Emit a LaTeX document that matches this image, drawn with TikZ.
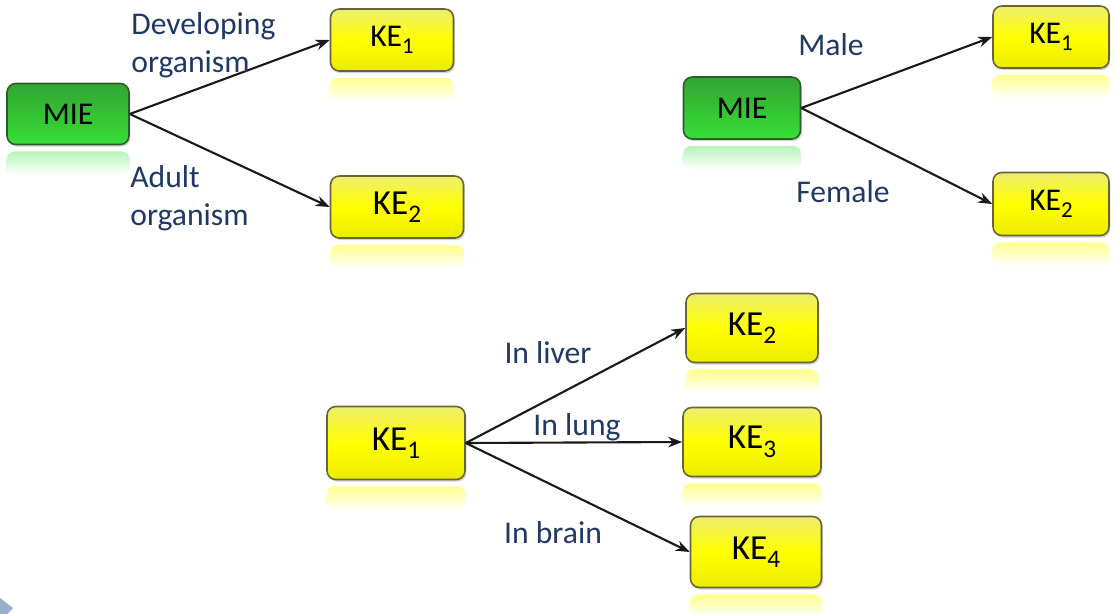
\documentclass[tikz,border=0pt]{standalone}
\usepackage{fontspec}
\setmainfont{Carlito}
\usetikzlibrary{arrows.meta,shadows,calc}

\definecolor{lblblue}{RGB}{31,56,100}
\definecolor{ketop}{RGB}{238,238,110}
\definecolor{kemid}{RGB}{255,255,0}
\definecolor{kebot}{RGB}{236,236,0}
\definecolor{keline}{RGB}{105,100,55}
\definecolor{mietop}{RGB}{50,165,50}
\definecolor{miebot}{RGB}{55,222,55}
\definecolor{mieline}{RGB}{40,95,40}
\definecolor{slidetri}{RGB}{150,175,205}

% lowered index after KE
\newcommand{\ksub}[1]{\raisebox{-0.24em}{\scalebox{0.72}{#1}}}

\tikzset{
  box/.style={draw, line width=0.9pt, rounded corners=5pt, inner sep=0pt,
    font=\fontsize{18}{20}\selectfont,
    drop shadow={shadow xshift=0.8pt,shadow yshift=-1.2pt,opacity=0.35}},
  mie/.style={box, draw=mieline, top color=mietop, bottom color=miebot},
  ke/.style={box, draw=keline, top color=ketop, bottom color=kebot, middle color=kemid},
  bigtext/.style={font=\fontsize{20}{22}\selectfont},
  lbl/.style={text=lblblue, font=\fontsize{18}{21.5}\selectfont, inner sep=0pt},
  link/.style={-{Stealth[length=8pt,width=6pt]}, line width=1.2pt, black!90},
}

\begin{document}
\begin{tikzpicture}[x=0.2mm,y=-0.2mm]
\useasboundingbox (0,0) rectangle (1118,614);

% developing vs adult
\node[mie, minimum width=2.44cm, minimum height=1.22cm] (mieA) at (68,114) {MIE};
\node[ke, minimum width=2.46cm, minimum height=1.24cm] (keA1) at (392,40) {KE\ksub{1}};
\node[ke, bigtext, minimum width=2.66cm, minimum height=1.24cm] (keA2) at (397,207) {KE\ksub{2}};
\draw[link] (mieA.east) -- (keA1.west);
\draw[link] (mieA.east) -- (keA2.west);
\node[lbl, align=left, anchor=north west] (devlbl) at (131,12) {Developing\\organism};
\node[lbl, align=left, anchor=north west] (adultlbl) at (130,165) {Adult\\organism};

% male vs female
\node[mie, minimum width=2.34cm, minimum height=1.24cm] (mieB) at (742,108) {MIE};
\node[ke, minimum width=2.32cm, minimum height=1.24cm] (keB1) at (1051,37) {KE\ksub{1}};
\node[ke, minimum width=2.32cm, minimum height=1.26cm] (keB2) at (1051,204) {KE\ksub{2}};
\draw[link] (mieB.east) -- (keB1.west);
\draw[link] (mieB.east) -- (keB2.west);
\node[lbl, anchor=base] (malelbl) at (831,55) {Male};
\node[lbl, anchor=base] (femalelbl) at (843,202) {Female};

% organ specific
\node[ke, bigtext, minimum width=2.76cm, minimum height=1.46cm] (keC1) at (396,443) {KE\ksub{1}};
\node[ke, bigtext, minimum width=2.64cm, minimum height=1.38cm] (keC2) at (752,328) {KE\ksub{2}};
\node[ke, bigtext, minimum width=2.76cm, minimum height=1.38cm] (keC3) at (752,442) {KE\ksub{3}};
\node[ke, bigtext, minimum width=2.62cm, minimum height=1.42cm] (keC4) at (756,552) {KE\ksub{4}};
\draw[link] (keC1.east) -- (keC2.west);
\draw[link] (keC1.east) -- (keC3.west);
\draw[link] (keC1.east) -- (keC4.west);
\node[lbl, anchor=base] (liverlbl) at (548,363) {In liver};
\node[lbl, anchor=base] (lunglbl) at (577,435) {In lung};
\node[lbl, anchor=base] (brainlbl) at (553,543) {In brain};

% mirror glow under the boxes
\foreach \n in {mieA,mieB}
  \shade[top color=miebot!35, bottom color=white, rounded corners=5pt]
    ($(\n.south west)+(0,6)$) rectangle ($(\n.south east)+(0,30)$);
\foreach \n in {keA1,keA2,keB1,keB2,keC1,keC2,keC3,keC4}
  \shade[top color=kemid!45, bottom color=white, rounded corners=5pt]
    ($(\n.south west)+(0,6)$) rectangle ($(\n.south east)+(0,30)$);

\fill[slidetri] (0,598) -- (13,608) -- (7,614) -- (0,614) -- cycle;
\end{tikzpicture}
\end{document}
